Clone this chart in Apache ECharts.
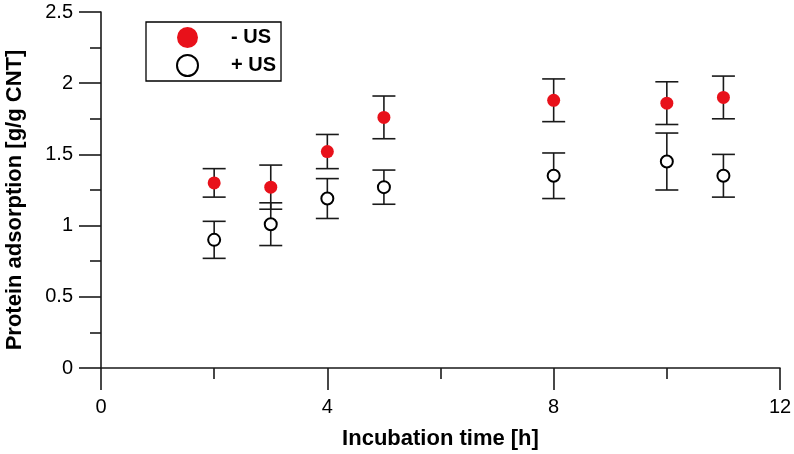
<!DOCTYPE html>
<html><head><meta charset="utf-8">
<script src="https://cdn.jsdelivr.net/npm/echarts@6/dist/echarts.min.js"></script>
<style>html,body{margin:0;padding:0;background:#fff}#c{width:794px;height:454px}</style>
</head><body><div id="c"></div>
<script>
const times = [2, 3, 4, 5, 8, 10, 11];
const withoutUS = [1.30, 1.27, 1.52, 1.76, 1.88, 1.86, 1.90];
const withoutUSErr = [0.10, 0.155, 0.12, 0.15, 0.15, 0.15, 0.15];
const withUS = [0.90, 1.01, 1.19, 1.27, 1.35, 1.45, 1.35];
const withUSErr = [0.13, 0.15, 0.14, 0.12, 0.16, 0.20, 0.15];
const xTicks = [0, 4, 8, 12];
const yTicks = [0, 0.5, 1, 1.5, 2, 2.5];
const seriesNames = ['- US', '+ US'];

const FONT = 'Liberation Sans, Arial, sans-serif';
const chart = echarts.init(document.getElementById('c'), null, {renderer: 'canvas'});

function errData(vals, errs) {
  return times.map((t, i) => [t, vals[i] - errs[i], vals[i] + errs[i]]);
}
function errRender(params, api) {
  const x = api.value(0);
  const lo = api.coord([x, api.value(1)]);
  const hi = api.coord([x, api.value(2)]);
  const hw = 11.5;
  const style = {stroke: '#1a1a1a', lineWidth: 1.6};
  return {
    type: 'group',
    children: [
      {type: 'line', shape: {x1: lo[0], y1: lo[1], x2: hi[0], y2: hi[1]}, style},
      {type: 'line', shape: {x1: lo[0] - hw, y1: lo[1], x2: lo[0] + hw, y2: lo[1]}, style},
      {type: 'line', shape: {x1: hi[0] - hw, y1: hi[1], x2: hi[0] + hw, y2: hi[1]}, style}
    ]
  };
}

const axisCommon = {
  axisLine: {show: true, onZero: false, lineStyle: {color: '#1a1a1a', width: 1.6}},
  axisTick: {show: true, inside: false, length: 22, lineStyle: {color: '#1a1a1a', width: 1.6}},
  minorTick: {show: true, splitNumber: 2, length: 11, lineStyle: {color: '#1a1a1a', width: 1.6}},
  splitLine: {show: false},
  axisLabel: {color: '#000', fontFamily: FONT, fontSize: 20}
};

chart.setOption({
  animation: false,
  backgroundColor: '#fff',
  grid: {left: 101, right: 14, top: 12, bottom: 86, containLabel: false, outerBoundsMode: 'none'},
  legend: {
    orient: 'vertical',
    left: 146, top: 22,
    data: seriesNames,
    itemWidth: 21, itemHeight: 21, itemGap: 6,
    icon: 'circle',
    padding: [5, 5, 4, 30],
    borderColor: '#000', borderWidth: 1.3,
    textStyle: {fontFamily: FONT, fontSize: 20, fontWeight: 'bold', color: '#000', padding: [0, 0, 0, 28]}
  },
  xAxis: Object.assign({}, axisCommon, {
    type: 'value', min: 0, max: 12, interval: 4,
    axisLabel: Object.assign({}, axisCommon.axisLabel, {margin: 29,
      formatter: v => xTicks.includes(v) ? String(v) : ''}),
    name: 'Incubation time [h]', nameLocation: 'middle', nameGap: 60,
    nameTextStyle: {fontFamily: FONT, fontSize: 22, fontWeight: 'bold', color: '#000'}
  }),
  yAxis: Object.assign({}, axisCommon, {
    type: 'value', min: 0, max: 2.5, interval: 0.5,
    axisLabel: Object.assign({}, axisCommon.axisLabel, {margin: 28,
      formatter: v => yTicks.includes(v) ? String(v) : ''}),
    name: 'Protein adsorption [g/g CNT]', nameLocation: 'middle', nameGap: 75,
    nameTextStyle: {fontFamily: FONT, fontSize: 22, fontWeight: 'bold', color: '#000', padding: [0, 20, 0, 0]}
  }),
  series: [
    {type: 'custom', renderItem: errRender, data: errData(withoutUS, withoutUSErr), z: 1, silent: true},
    {type: 'custom', renderItem: errRender, data: errData(withUS, withUSErr), z: 1, silent: true},
    {name: seriesNames[0], type: 'scatter', symbol: 'circle', symbolSize: 13, z: 3,
     itemStyle: {color: '#e8111a', opacity: 1},
     data: times.map((t, i) => [t, withoutUS[i]])},
    {name: seriesNames[1], type: 'scatter', symbol: 'circle', symbolSize: 12, z: 3,
     itemStyle: {color: '#fff', borderColor: '#000', borderWidth: 2, opacity: 1},
     data: times.map((t, i) => [t, withUS[i]])}
  ]
});
</script></body></html>
